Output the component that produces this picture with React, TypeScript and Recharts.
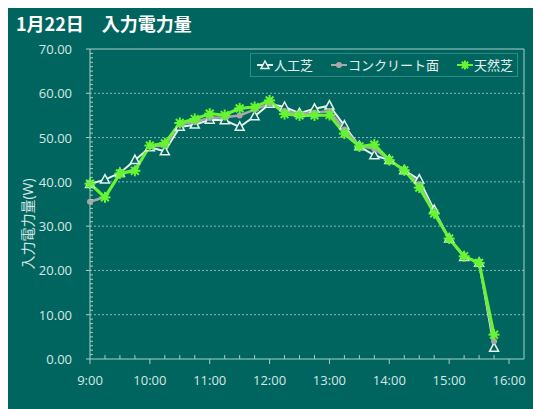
import { Label, Line, LineChart, ReferenceLine, XAxis, YAxis } from 'recharts'

// 計測時刻（15分間隔）
const times = [
  '9:00', '9:15', '9:30', '9:45', '10:00', '10:15', '10:30', '10:45',
  '11:00', '11:15', '11:30', '11:45', '12:00', '12:15', '12:30', '12:45',
  '13:00', '13:15', '13:30', '13:45', '14:00', '14:15', '14:30', '14:45',
  '15:00', '15:15', '15:30', '15:45',
]

// 入力電力量 (W)
const artificialTurf = [
  39.5, 40.5, 42.0, 44.9, 47.8, 46.9, 52.4, 52.9, 54.0, 53.9, 52.4, 54.8, 57.6, 56.9,
  55.5, 56.5, 57.2, 52.7, 48.0, 46.0, 44.9, 42.6, 40.5, 33.6, 27.2, 23.0, 21.7, 2.5,
]
const concrete = [
  35.5, 36.6, 41.8, 42.8, 48.0, 48.2, 53.0, 53.5, 54.4, 54.6, 55.0, 56.3, 57.6, 56.0,
  55.3, 55.6, 56.0, 51.8, 48.1, 47.5, 45.0, 42.6, 39.5, 33.0, 27.2, 23.1, 21.7, 4.0,
]
const naturalTurf = [
  39.6, 36.5, 41.9, 42.5, 48.2, 48.7, 53.3, 54.2, 55.4, 55.1, 56.6, 56.9, 58.4, 55.3,
  55.0, 55.0, 55.1, 50.9, 48.0, 48.4, 44.9, 42.6, 38.7, 32.9, 27.2, 23.2, 21.7, 5.5,
]

const seriesNames = ['人工芝', 'コンクリート面', '天然芝']
const xTickLabels = ['9:00', '10:00', '11:00', '12:00', '13:00', '14:00', '15:00', '16:00']
const yTickLabels = ['0.00', '10.00', '20.00', '30.00', '40.00', '50.00', '60.00', '70.00']

const bg = '#01655f'
const axisColor = '#a9cfca'
const gridColor = '#86b9b3'
const textColor = '#d6e8e5'
const whiteLine = '#e4f4ea'
const grayLine = '#a8a8a8'
const greenLine = '#66f530'
const font = "'Open Sans', 'Noto Sans CJK JP', sans-serif"

const toMinutes = (t: string) => {
  const [h, m] = t.split(':').map(Number)
  return h * 60 + m
}

const data = times.map((t, i) => ({
  minute: toMinutes(t),
  artificial: artificialTurf[i],
  concrete: concrete[i],
  natural: naturalTurf[i],
}))

// 目盛：横軸は15分ごと、縦軸は1Wごと（ラベルは主目盛のみ）
const xTicks = Array.from({ length: 29 }, (_, i) => 540 + i * 15)
const yTicks = Array.from({ length: 71 }, (_, i) => i)

function TimeTick(props: any) {
  const { x, y, payload } = props
  const major = payload.value % 60 === 0
  const label = xTickLabels[(payload.value - 540) / 60]
  return (
    <g>
      {major ? (
        <line x1={x} x2={x} y1={y} y2={y + 5} stroke={axisColor} />
      ) : (
        <line x1={x} x2={x} y1={y - 4} y2={y} stroke={axisColor} />
      )}
      {major && (
        <text x={x} y={y + 26} textAnchor="middle" fill={textColor} fontSize={13} fontFamily={font}>
          {label}
        </text>
      )}
    </g>
  )
}

function PowerTick(props: any) {
  const { x, y, payload } = props
  const major = payload.value % 10 === 0
  return (
    <g>
      {major ? (
        <line x1={x - 4} x2={x} y1={y} y2={y} stroke={axisColor} />
      ) : (
        <line x1={x} x2={x + 3} y1={y} y2={y} stroke={axisColor} />
      )}
      {major && (
        <text x={x - 18} y={y + 5} textAnchor="end" fill={textColor} fontSize={13} fontFamily={font}>
          {yTickLabels[payload.value / 10]}
        </text>
      )}
    </g>
  )
}

function TriangleMark({ cx, cy, size = 4.5 }: { cx: number; cy: number; size?: number }) {
  return (
    <polygon
      points={`${cx},${cy - size - 0.5} ${cx - size},${cy + size * 0.75} ${cx + size},${cy + size * 0.75}`}
      fill={bg}
      stroke={whiteLine}
      strokeWidth={1.5}
    />
  )
}

function StarMark({ cx, cy, r = 5.5 }: { cx: number; cy: number; r?: number }) {
  const rays = [0, 45, 90, 135].map((deg) => {
    const a = (deg * Math.PI) / 180
    return (
      <line
        key={deg}
        x1={cx - r * Math.cos(a)}
        y1={cy - r * Math.sin(a)}
        x2={cx + r * Math.cos(a)}
        y2={cy + r * Math.sin(a)}
        stroke={greenLine}
        strokeWidth={2}
      />
    )
  })
  return (
    <g>
      {rays}
      <circle cx={cx} cy={cy} r={3} fill={greenLine} />
    </g>
  )
}

const renderTriangle = (p: any) => <TriangleMark key={`tri-${p.index}`} cx={p.cx} cy={p.cy} />
const renderCircle = (p: any) => <circle key={`cir-${p.index}`} cx={p.cx} cy={p.cy} r={3} fill={grayLine} />
const renderStar = (p: any) => <StarMark key={`star-${p.index}`} cx={p.cx} cy={p.cy} />

function LegendIcon({ kind }: { kind: number }) {
  const color = [whiteLine, grayLine, greenLine][kind]
  return (
    <svg width={16} height={12} style={{ display: 'block' }}>
      <line x1={0} x2={16} y1={6} y2={6} stroke={color} strokeWidth={2} />
      {kind === 0 && <TriangleMark cx={8} cy={6.5} size={4} />}
      {kind === 1 && <circle cx={8} cy={6} r={3} fill={grayLine} />}
      {kind === 2 && <StarMark cx={8} cy={6} r={4.5} />}
    </svg>
  )
}

function YTitle(props: any) {
  const { viewBox } = props
  const cx = 19
  const cy = viewBox.y + viewBox.height / 2 + 20
  return (
    <text
      x={cx}
      y={cy}
      transform={`rotate(-90 ${cx} ${cy})`}
      textAnchor="middle"
      dominantBaseline="central"
      fill={textColor}
      fontSize={14}
      fontFamily={font}
    >
      入力電力量(W)
    </text>
  )
}

export default function App() {
  return (
    <div style={{ position: 'relative', width: 527, height: 401, background: bg, fontFamily: font }}>
      <div
        style={{
          position: 'absolute',
          left: 8,
          top: 0,
          lineHeight: '30px',
          fontSize: 18,
          fontWeight: 700,
          color: '#ffffff',
          fontFamily: "'Noto Sans CJK JP', sans-serif",
          whiteSpace: 'pre',
        }}
      >
        1月22日　入力電力量
      </div>

      <LineChart width={527} height={401} data={data} margin={{ top: 41, right: 11, bottom: 0, left: 0 }}>
        <XAxis
          dataKey="minute"
          type="number"
          domain={[540, 975]}
          ticks={xTicks}
          interval={0}
          tick={<TimeTick />}
          tickSize={0}
          tickMargin={0}
          tickLine={false}
          axisLine={{ stroke: axisColor }}
          height={50}
        />
        <YAxis
          type="number"
          domain={[0, 70]}
          ticks={yTicks}
          interval={0}
          tick={<PowerTick />}
          tickSize={0}
          tickMargin={0}
          tickLine={false}
          axisLine={{ stroke: axisColor }}
          width={82}
        >
          <Label content={<YTitle />} />
        </YAxis>
        {[10, 20, 30, 40, 50, 60].map((v) => (
          <ReferenceLine key={v} y={v} stroke={gridColor} strokeDasharray="2 2" />
        ))}
        <ReferenceLine y={70} stroke={axisColor} />
        <ReferenceLine x={975} stroke={axisColor} />
        <Line
          dataKey="artificial"
          name={seriesNames[0]}
          stroke={whiteLine}
          strokeWidth={2}
          dot={renderTriangle}
          isAnimationActive={false}
        />
        <Line
          dataKey="concrete"
          name={seriesNames[1]}
          stroke={grayLine}
          strokeWidth={2.5}
          dot={renderCircle}
          isAnimationActive={false}
        />
        <Line
          dataKey="natural"
          name={seriesNames[2]}
          stroke={greenLine}
          strokeWidth={3}
          dot={renderStar}
          isAnimationActive={false}
        />
      </LineChart>

      {/* 凡例（右上の枠付き） */}
      <div
        style={{
          position: 'absolute',
          left: 242,
          top: 45,
          width: 268,
          height: 24,
          boxSizing: 'border-box',
          border: '1px solid #2e8a82',
          display: 'flex',
          alignItems: 'center',
          paddingLeft: 6,
          gap: 18,
          fontSize: 13,
          color: '#e6f1ef',
          fontFamily: "'Noto Sans CJK JP', sans-serif",
        }}
      >
        {seriesNames.map((name, i) => (
          <div key={name} style={{ display: 'flex', alignItems: 'center', gap: 1 }}>
            <LegendIcon kind={i} />
            <span style={{ lineHeight: '16px' }}>{name}</span>
          </div>
        ))}
      </div>
    </div>
  )
}
